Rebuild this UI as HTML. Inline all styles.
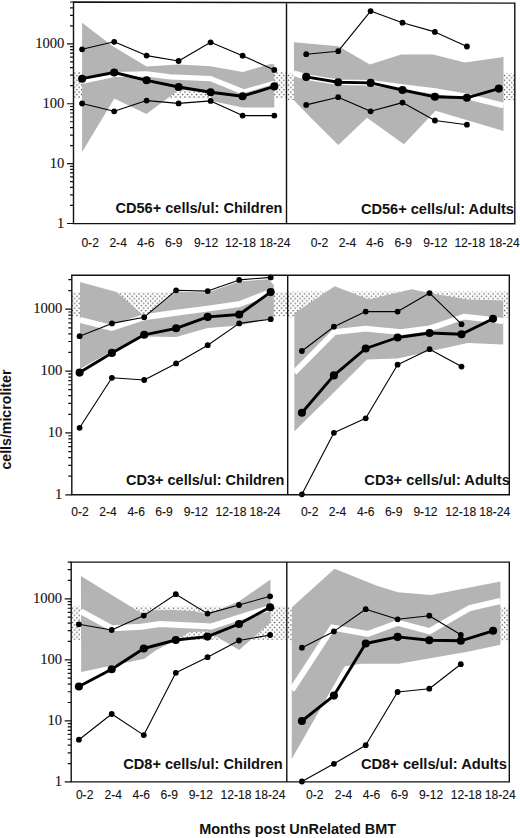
<!DOCTYPE html>
<html><head><meta charset="utf-8"><style>html,body{margin:0;padding:0;background:#fff;width:520px;height:838px;overflow:hidden}svg{display:block}</style></head>
<body>
<svg width="520" height="838" viewBox="0 0 520 838">
<defs><pattern id="st" x="0" y="0" width="4.6" height="4.8" patternUnits="userSpaceOnUse"><rect x="0.4" y="0.4" width="1.2" height="1.2" fill="#333"/><rect x="2.7" y="2.8" width="1.2" height="1.2" fill="#333"/></pattern></defs>
<rect width="520" height="838" fill="#fff"/>
<rect x="73.5" y="72.0" width="213.0" height="26.5" fill="url(#st)"/>
<polygon points="82.1,22.7 112.5,46.0 146.6,66.5 178.6,64.6 210.4,66.2 242.6,72.0 270.7,63.9 274.3,64.5 274.3,107.5 242.6,107.5 212.0,101.0 209.0,91.0 178.6,90.0 146.4,114.0 114.3,98.4 82.1,152.0" fill="#b4b4b4"/>
<polyline points="82.1,81.2 114.2,74.5 146.6,73.8 170.0,76.9 210.4,78.6 242.6,91.5" fill="none" stroke="#fff" stroke-width="5.2" stroke-linejoin="miter"/>
<polyline points="242.6,91.5 274.3,82.3" fill="none" stroke="#fff" stroke-width="3.4"/>
<polyline points="82.1,49.3 114.2,41.8 146.6,55.6 178.6,61.0 210.6,42.3 242.6,55.7 274.3,69.9" fill="none" stroke="#000" stroke-width="1.1" stroke-linejoin="round"/>
<circle cx="82.1" cy="49.3" r="2.9" fill="#000"/>
<circle cx="114.2" cy="41.8" r="2.9" fill="#000"/>
<circle cx="146.6" cy="55.6" r="2.9" fill="#000"/>
<circle cx="178.6" cy="61.0" r="2.9" fill="#000"/>
<circle cx="210.6" cy="42.3" r="2.9" fill="#000"/>
<circle cx="242.6" cy="55.7" r="2.9" fill="#000"/>
<circle cx="274.3" cy="69.9" r="2.9" fill="#000"/>
<polyline points="82.1,103.5 114.2,111.3 146.6,100.6 178.6,103.4 210.6,100.9 242.6,115.6 274.3,115.6" fill="none" stroke="#000" stroke-width="1.1" stroke-linejoin="round"/>
<circle cx="82.1" cy="103.5" r="2.9" fill="#000"/>
<circle cx="114.2" cy="111.3" r="2.9" fill="#000"/>
<circle cx="146.6" cy="100.6" r="2.9" fill="#000"/>
<circle cx="178.6" cy="103.4" r="2.9" fill="#000"/>
<circle cx="210.6" cy="100.9" r="2.9" fill="#000"/>
<circle cx="242.6" cy="115.6" r="2.9" fill="#000"/>
<circle cx="274.3" cy="115.6" r="2.9" fill="#000"/>
<polyline points="82.1,78.7 114.2,72.5 146.6,80.3 178.6,87.0 210.6,92.2 242.6,96.2 274.3,86.4" fill="none" stroke="#000" stroke-width="2.9" stroke-linejoin="round"/>
<circle cx="82.1" cy="78.7" r="4.05" fill="#000"/>
<circle cx="114.2" cy="72.5" r="4.05" fill="#000"/>
<circle cx="146.6" cy="80.3" r="4.05" fill="#000"/>
<circle cx="178.6" cy="87.0" r="4.05" fill="#000"/>
<circle cx="210.6" cy="92.2" r="4.05" fill="#000"/>
<circle cx="242.6" cy="96.2" r="4.05" fill="#000"/>
<circle cx="274.3" cy="86.4" r="4.05" fill="#000"/>
<rect x="286.5" y="73.3" width="228.3" height="26.9" fill="url(#st)"/>
<polygon points="293.9,42.3 338.5,46.2 369.8,64.4 401.2,54.6 433.0,54.6 464.9,62.6 503.5,56.9 503.5,131.0 435.5,110.8 403.9,144.3 367.0,117.7 338.3,145.0 311.0,118.0 294.0,100.3" fill="#b4b4b4"/>
<polyline points="293.9,73.3 306.2,76.9 338.2,82.2 370.6,82.7 402.5,87.0 434.9,91.0 466.9,96.5 503.5,105.5" fill="none" stroke="#fff" stroke-width="5.6" stroke-linejoin="miter"/>
<polyline points="306.2,54.2 338.2,51.2 370.6,11.1 402.5,22.7 434.9,31.9 466.9,46.5" fill="none" stroke="#000" stroke-width="1.1" stroke-linejoin="round"/>
<circle cx="306.2" cy="54.2" r="2.9" fill="#000"/>
<circle cx="338.2" cy="51.2" r="2.9" fill="#000"/>
<circle cx="370.6" cy="11.1" r="2.9" fill="#000"/>
<circle cx="402.5" cy="22.7" r="2.9" fill="#000"/>
<circle cx="434.9" cy="31.9" r="2.9" fill="#000"/>
<circle cx="466.9" cy="46.5" r="2.9" fill="#000"/>
<polyline points="306.2,104.9 338.2,97.2 370.6,111.3 402.5,102.6 434.9,120.5 466.9,124.7" fill="none" stroke="#000" stroke-width="1.1" stroke-linejoin="round"/>
<circle cx="306.2" cy="104.9" r="2.9" fill="#000"/>
<circle cx="338.2" cy="97.2" r="2.9" fill="#000"/>
<circle cx="370.6" cy="111.3" r="2.9" fill="#000"/>
<circle cx="402.5" cy="102.6" r="2.9" fill="#000"/>
<circle cx="434.9" cy="120.5" r="2.9" fill="#000"/>
<circle cx="466.9" cy="124.7" r="2.9" fill="#000"/>
<polyline points="306.2,76.9 338.2,82.3 370.6,82.9 402.5,90.0 434.9,96.8 466.9,97.8 498.8,88.6" fill="none" stroke="#000" stroke-width="2.9" stroke-linejoin="round"/>
<circle cx="306.2" cy="76.9" r="4.05" fill="#000"/>
<circle cx="338.2" cy="82.3" r="4.05" fill="#000"/>
<circle cx="370.6" cy="82.9" r="4.05" fill="#000"/>
<circle cx="402.5" cy="90.0" r="4.05" fill="#000"/>
<circle cx="434.9" cy="96.8" r="4.05" fill="#000"/>
<circle cx="466.9" cy="97.8" r="4.05" fill="#000"/>
<circle cx="498.8" cy="88.6" r="4.05" fill="#000"/>
<rect x="71.8" y="292.0" width="215.9" height="24.5" fill="url(#st)"/>
<polygon points="80.0,282.0 116.6,292.0 144.2,316.0 176.2,291.5 207.7,292.5 239.2,281.5 268.5,279.2 273.8,285.0 273.8,317.7 239.2,325.4 207.7,328.0 176.2,337.0 144.2,336.5 112.0,351.0 80.0,369.0" fill="#b4b4b4"/>
<polyline points="80.0,319.8 111.6,327.8 144.2,317.2 176.2,312.8 207.7,308.6 239.2,304.2 270.8,292.0" fill="none" stroke="#fff" stroke-width="6" stroke-linejoin="miter"/>
<polyline points="79.6,336.2 111.9,323.4 144.2,317.2 176.1,290.3 207.7,291.1 239.2,279.9 270.7,277.4" fill="none" stroke="#000" stroke-width="1.1" stroke-linejoin="round"/>
<circle cx="79.6" cy="336.2" r="2.9" fill="#000"/>
<circle cx="111.9" cy="323.4" r="2.9" fill="#000"/>
<circle cx="144.2" cy="317.2" r="2.9" fill="#000"/>
<circle cx="176.1" cy="290.3" r="2.9" fill="#000"/>
<circle cx="207.7" cy="291.1" r="2.9" fill="#000"/>
<circle cx="239.2" cy="279.9" r="2.9" fill="#000"/>
<circle cx="270.7" cy="277.4" r="2.9" fill="#000"/>
<polyline points="79.6,427.8 111.9,377.8 144.2,380.0 176.1,363.4 207.7,345.2 239.2,323.4 270.7,319.2" fill="none" stroke="#000" stroke-width="1.1" stroke-linejoin="round"/>
<circle cx="79.6" cy="427.8" r="2.9" fill="#000"/>
<circle cx="111.9" cy="377.8" r="2.9" fill="#000"/>
<circle cx="144.2" cy="380.0" r="2.9" fill="#000"/>
<circle cx="176.1" cy="363.4" r="2.9" fill="#000"/>
<circle cx="207.7" cy="345.2" r="2.9" fill="#000"/>
<circle cx="239.2" cy="323.4" r="2.9" fill="#000"/>
<circle cx="270.7" cy="319.2" r="2.9" fill="#000"/>
<polyline points="79.6,372.6 111.9,352.9 144.2,334.8 176.1,328.3 207.7,316.9 239.2,314.5 270.7,292.1" fill="none" stroke="#000" stroke-width="2.9" stroke-linejoin="round"/>
<circle cx="79.6" cy="372.6" r="4.05" fill="#000"/>
<circle cx="111.9" cy="352.9" r="4.05" fill="#000"/>
<circle cx="144.2" cy="334.8" r="4.05" fill="#000"/>
<circle cx="176.1" cy="328.3" r="4.05" fill="#000"/>
<circle cx="207.7" cy="316.9" r="4.05" fill="#000"/>
<circle cx="239.2" cy="314.5" r="4.05" fill="#000"/>
<circle cx="270.7" cy="292.1" r="4.05" fill="#000"/>
<rect x="287.7" y="291.7" width="221.6" height="25.8" fill="url(#st)"/>
<polygon points="294.4,313.3 334.7,286.2 369.0,299.5 411.5,289.2 435.0,293.9 467.7,299.6 503.2,300.4 503.2,344.6 467.7,343.0 435.0,350.3 397.6,358.5 367.0,359.5 294.4,431.5" fill="#b4b4b4"/>
<polyline points="294.4,372.5 334.5,332.0 365.8,328.7 380.0,330.2 401.0,332.2 429.5,328.3 440.0,325.0 464.2,316.6 503.2,321.0" fill="none" stroke="#fff" stroke-width="5.8" stroke-linejoin="miter"/>
<polyline points="301.9,351.0 333.9,326.7 365.7,311.6 397.6,311.6 429.6,293.1 461.5,324.2" fill="none" stroke="#000" stroke-width="1.1" stroke-linejoin="round"/>
<circle cx="301.9" cy="351.0" r="2.9" fill="#000"/>
<circle cx="333.9" cy="326.7" r="2.9" fill="#000"/>
<circle cx="365.7" cy="311.6" r="2.9" fill="#000"/>
<circle cx="397.6" cy="311.6" r="2.9" fill="#000"/>
<circle cx="429.6" cy="293.1" r="2.9" fill="#000"/>
<circle cx="461.5" cy="324.2" r="2.9" fill="#000"/>
<polyline points="301.9,494.3 333.9,432.8 365.7,418.3 397.6,364.7 429.6,349.2 461.5,366.6" fill="none" stroke="#000" stroke-width="1.1" stroke-linejoin="round"/>
<circle cx="301.9" cy="494.3" r="2.9" fill="#000"/>
<circle cx="333.9" cy="432.8" r="2.9" fill="#000"/>
<circle cx="365.7" cy="418.3" r="2.9" fill="#000"/>
<circle cx="397.6" cy="364.7" r="2.9" fill="#000"/>
<circle cx="429.6" cy="349.2" r="2.9" fill="#000"/>
<circle cx="461.5" cy="366.6" r="2.9" fill="#000"/>
<polyline points="301.9,412.7 333.9,375.4 365.7,348.5 397.6,337.5 429.6,333.0 461.5,334.2 493.0,318.8" fill="none" stroke="#000" stroke-width="2.9" stroke-linejoin="round"/>
<circle cx="301.9" cy="412.7" r="4.05" fill="#000"/>
<circle cx="333.9" cy="375.4" r="4.05" fill="#000"/>
<circle cx="365.7" cy="348.5" r="4.05" fill="#000"/>
<circle cx="397.6" cy="337.5" r="4.05" fill="#000"/>
<circle cx="429.6" cy="333.0" r="4.05" fill="#000"/>
<circle cx="461.5" cy="334.2" r="4.05" fill="#000"/>
<circle cx="493.0" cy="318.8" r="4.05" fill="#000"/>
<rect x="71.2" y="606.5" width="215.6" height="33.5" fill="url(#st)"/>
<polygon points="80.9,576.1 141.5,613.3 146.0,613.0 152.0,610.3 170.8,610.0 193.8,611.0 207.7,614.6 239.5,601.0 270.5,579.5 270.5,622.3 239.2,650.0 207.7,631.5 190.0,632.0 175.8,640.0 156.5,650.0 144.3,658.7 81.2,672.0" fill="#b4b4b4"/>
<polyline points="80.9,611.3 112.0,628.3 141.2,626.8 160.0,624.0 207.1,626.2 211.5,626.4 239.0,617.5 270.0,608.0" fill="none" stroke="#fff" stroke-width="6" stroke-linejoin="miter"/>
<polyline points="78.9,624.3 111.7,630.0 143.8,615.6 175.8,594.2 207.5,613.6 239.0,605.0 270.1,596.3" fill="none" stroke="#000" stroke-width="1.1" stroke-linejoin="round"/>
<circle cx="78.9" cy="624.3" r="2.9" fill="#000"/>
<circle cx="111.7" cy="630.0" r="2.9" fill="#000"/>
<circle cx="143.8" cy="615.6" r="2.9" fill="#000"/>
<circle cx="175.8" cy="594.2" r="2.9" fill="#000"/>
<circle cx="207.5" cy="613.6" r="2.9" fill="#000"/>
<circle cx="239.0" cy="605.0" r="2.9" fill="#000"/>
<circle cx="270.1" cy="596.3" r="2.9" fill="#000"/>
<polyline points="78.9,739.7 111.7,714.0 143.8,735.1 175.8,672.8 207.5,657.2 239.0,640.5 270.1,635.0" fill="none" stroke="#000" stroke-width="1.1" stroke-linejoin="round"/>
<circle cx="78.9" cy="739.7" r="2.9" fill="#000"/>
<circle cx="111.7" cy="714.0" r="2.9" fill="#000"/>
<circle cx="143.8" cy="735.1" r="2.9" fill="#000"/>
<circle cx="175.8" cy="672.8" r="2.9" fill="#000"/>
<circle cx="207.5" cy="657.2" r="2.9" fill="#000"/>
<circle cx="239.0" cy="640.5" r="2.9" fill="#000"/>
<circle cx="270.1" cy="635.0" r="2.9" fill="#000"/>
<polyline points="78.9,686.5 111.7,669.2 143.8,648.5 175.8,640.0 207.5,636.6 239.0,624.0 270.1,607.2" fill="none" stroke="#000" stroke-width="2.9" stroke-linejoin="round"/>
<circle cx="78.9" cy="686.5" r="4.05" fill="#000"/>
<circle cx="111.7" cy="669.2" r="4.05" fill="#000"/>
<circle cx="143.8" cy="648.5" r="4.05" fill="#000"/>
<circle cx="175.8" cy="640.0" r="4.05" fill="#000"/>
<circle cx="207.5" cy="636.6" r="4.05" fill="#000"/>
<circle cx="239.0" cy="624.0" r="4.05" fill="#000"/>
<circle cx="270.1" cy="607.2" r="4.05" fill="#000"/>
<rect x="286.8" y="607.0" width="222.5" height="33.5" fill="url(#st)"/>
<polygon points="291.9,607.3 334.6,568.8 376.2,585.4 397.7,592.3 431.2,595.0 500.4,581.5 500.4,644.8 468.8,651.5 398.8,663.7 360.8,663.8 344.6,666.5 291.7,759.0" fill="#b4b4b4"/>
<polyline points="291.8,690.0 332.5,627.5 367.7,634.0 398.0,622.8 429.6,631.2 469.8,608.0 500.4,601.0" fill="none" stroke="#fff" stroke-width="6" stroke-linejoin="miter"/>
<polyline points="301.9,647.7 333.9,631.4 365.7,609.2 397.6,619.3 429.3,615.7 460.8,634.8" fill="none" stroke="#000" stroke-width="1.1" stroke-linejoin="round"/>
<circle cx="301.9" cy="647.7" r="2.9" fill="#000"/>
<circle cx="333.9" cy="631.4" r="2.9" fill="#000"/>
<circle cx="365.7" cy="609.2" r="2.9" fill="#000"/>
<circle cx="397.6" cy="619.3" r="2.9" fill="#000"/>
<circle cx="429.3" cy="615.7" r="2.9" fill="#000"/>
<circle cx="460.8" cy="634.8" r="2.9" fill="#000"/>
<polyline points="301.9,781.5 333.9,763.8 365.7,745.2 397.6,692.0 429.3,688.7 460.8,664.2" fill="none" stroke="#000" stroke-width="1.1" stroke-linejoin="round"/>
<circle cx="301.9" cy="781.5" r="2.9" fill="#000"/>
<circle cx="333.9" cy="763.8" r="2.9" fill="#000"/>
<circle cx="365.7" cy="745.2" r="2.9" fill="#000"/>
<circle cx="397.6" cy="692.0" r="2.9" fill="#000"/>
<circle cx="429.3" cy="688.7" r="2.9" fill="#000"/>
<circle cx="460.8" cy="664.2" r="2.9" fill="#000"/>
<polyline points="301.9,721.0 333.9,695.6 365.7,643.5 397.6,636.9 429.3,640.2 460.8,640.8 493.1,630.8" fill="none" stroke="#000" stroke-width="2.9" stroke-linejoin="round"/>
<circle cx="301.9" cy="721.0" r="4.05" fill="#000"/>
<circle cx="333.9" cy="695.6" r="4.05" fill="#000"/>
<circle cx="365.7" cy="643.5" r="4.05" fill="#000"/>
<circle cx="397.6" cy="636.9" r="4.05" fill="#000"/>
<circle cx="429.3" cy="640.2" r="4.05" fill="#000"/>
<circle cx="460.8" cy="640.8" r="4.05" fill="#000"/>
<circle cx="493.1" cy="630.8" r="4.05" fill="#000"/>
<path d="M73.5,2.0 L514.8,3.1 L514.8,223.8 L73.5,223.5 Z M286.5,2.0 L286.5,223.5" fill="none" stroke="#111" stroke-width="1.4" stroke-linejoin="miter"/>
<path d="M67.0,223.50H73.5M70.0,205.47H73.5M70.0,194.93H73.5M70.0,187.45H73.5M70.0,181.65H73.5M70.0,176.90H73.5M70.0,172.90H73.5M70.0,169.42H73.5M70.0,166.36H73.5M67.0,163.62H73.5M70.0,145.59H73.5M70.0,135.05H73.5M70.0,127.57H73.5M70.0,121.77H73.5M70.0,117.02H73.5M70.0,113.02H73.5M70.0,109.54H73.5M70.0,106.48H73.5M67.0,103.74H73.5M70.0,85.71H73.5M70.0,75.17H73.5M70.0,67.69H73.5M70.0,61.89H73.5M70.0,57.14H73.5M70.0,53.14H73.5M70.0,49.66H73.5M70.0,46.60H73.5M67.0,43.86H73.5M70.0,25.83H73.5M70.0,15.29H73.5M70.0,7.81H73.5M70.0,2.01H73.5" stroke="#111" stroke-width="1.2" fill="none"/>
<text x="64.39999999999999" y="228.0" text-anchor="end" font-family="Liberation Serif, serif" font-size="14.6" fill="#111" stroke="#111" stroke-width="0.12">1</text>
<text x="64.39999999999999" y="168.1" text-anchor="end" font-family="Liberation Serif, serif" font-size="14.6" fill="#111" stroke="#111" stroke-width="0.12">10</text>
<text x="64.39999999999999" y="108.2" text-anchor="end" font-family="Liberation Serif, serif" font-size="14.6" fill="#111" stroke="#111" stroke-width="0.12">100</text>
<text x="64.39999999999999" y="48.4" text-anchor="end" font-family="Liberation Serif, serif" font-size="14.6" fill="#111" stroke="#111" stroke-width="0.12">1000</text>
<path d="M71.8,275.2 L509.3,275.2 L509.3,494.8 L71.8,494.8 Z M287.7,275.2 L287.7,494.8" fill="none" stroke="#111" stroke-width="1.4" stroke-linejoin="miter"/>
<path d="M65.3,494.80H71.8M68.3,476.17H71.8M68.3,465.28H71.8M68.3,457.54H71.8M68.3,451.55H71.8M68.3,446.65H71.8M68.3,442.51H71.8M68.3,438.92H71.8M68.3,435.75H71.8M65.3,432.92H71.8M68.3,414.29H71.8M68.3,403.40H71.8M68.3,395.66H71.8M68.3,389.67H71.8M68.3,384.77H71.8M68.3,380.63H71.8M68.3,377.04H71.8M68.3,373.87H71.8M65.3,371.04H71.8M68.3,352.41H71.8M68.3,341.52H71.8M68.3,333.78H71.8M68.3,327.79H71.8M68.3,322.89H71.8M68.3,318.75H71.8M68.3,315.16H71.8M68.3,311.99H71.8M65.3,309.16H71.8M68.3,290.53H71.8M68.3,279.64H71.8" stroke="#111" stroke-width="1.2" fill="none"/>
<text x="62.4" y="498.6" text-anchor="end" font-family="Liberation Serif, serif" font-size="14.6" fill="#111" stroke="#111" stroke-width="0.12">1</text>
<text x="62.4" y="436.7" text-anchor="end" font-family="Liberation Serif, serif" font-size="14.6" fill="#111" stroke="#111" stroke-width="0.12">10</text>
<text x="62.4" y="374.8" text-anchor="end" font-family="Liberation Serif, serif" font-size="14.6" fill="#111" stroke="#111" stroke-width="0.12">100</text>
<text x="62.4" y="313.0" text-anchor="end" font-family="Liberation Serif, serif" font-size="14.6" fill="#111" stroke="#111" stroke-width="0.12">1000</text>
<path d="M71.2,562.1 L509.3,562.1 L509.3,781.9 L71.2,781.9 Z M286.8,562.1 L286.8,781.9" fill="none" stroke="#111" stroke-width="1.4" stroke-linejoin="miter"/>
<path d="M64.7,781.90H71.2M67.7,763.53H71.2M67.7,752.78H71.2M67.7,745.16H71.2M67.7,739.24H71.2M67.7,734.41H71.2M67.7,730.32H71.2M67.7,726.78H71.2M67.7,723.66H71.2M64.7,720.87H71.2M67.7,702.50H71.2M67.7,691.75H71.2M67.7,684.13H71.2M67.7,678.21H71.2M67.7,673.38H71.2M67.7,669.29H71.2M67.7,665.75H71.2M67.7,662.63H71.2M64.7,659.84H71.2M67.7,641.47H71.2M67.7,630.72H71.2M67.7,623.10H71.2M67.7,617.18H71.2M67.7,612.35H71.2M67.7,608.26H71.2M67.7,604.72H71.2M67.7,601.60H71.2M64.7,598.81H71.2M67.7,580.44H71.2M67.7,569.69H71.2M67.7,562.07H71.2" stroke="#111" stroke-width="1.2" fill="none"/>
<text x="62.1" y="785.7" text-anchor="end" font-family="Liberation Serif, serif" font-size="14.6" fill="#111" stroke="#111" stroke-width="0.12">1</text>
<text x="62.1" y="724.7" text-anchor="end" font-family="Liberation Serif, serif" font-size="14.6" fill="#111" stroke="#111" stroke-width="0.12">10</text>
<text x="62.1" y="663.6" text-anchor="end" font-family="Liberation Serif, serif" font-size="14.6" fill="#111" stroke="#111" stroke-width="0.12">100</text>
<text x="62.1" y="602.6" text-anchor="end" font-family="Liberation Serif, serif" font-size="14.6" fill="#111" stroke="#111" stroke-width="0.12">1000</text>
<text x="115.5" y="213.3" font-family="Liberation Sans, sans-serif" font-weight="bold" font-size="14" fill="#111" textLength="166.9" lengthAdjust="spacingAndGlyphs">CD56+ cells/ul: Children</text>
<text x="360.9" y="213.9" font-family="Liberation Sans, sans-serif" font-weight="bold" font-size="14" fill="#111" textLength="153.1" lengthAdjust="spacingAndGlyphs">CD56+ cells/ul: Adults</text>
<text x="126.0" y="484.7" font-family="Liberation Sans, sans-serif" font-weight="bold" font-size="14" fill="#111" textLength="158.4" lengthAdjust="spacingAndGlyphs">CD3+ cells/ul: Children</text>
<text x="364.3" y="484.7" font-family="Liberation Sans, sans-serif" font-weight="bold" font-size="14" fill="#111" textLength="145.6" lengthAdjust="spacingAndGlyphs">CD3+ cells/ul: Adults</text>
<text x="123.2" y="769.3" font-family="Liberation Sans, sans-serif" font-weight="bold" font-size="14" fill="#111" textLength="159.5" lengthAdjust="spacingAndGlyphs">CD8+ cells/ul: Children</text>
<text x="360.9" y="769.3" font-family="Liberation Sans, sans-serif" font-weight="bold" font-size="14" fill="#111" textLength="146.0" lengthAdjust="spacingAndGlyphs">CD8+ cells/ul: Adults</text>
<text x="81.4" y="246.5" font-family="Liberation Sans, sans-serif" font-size="12.1" fill="#111" stroke="#111" stroke-width="0.1">0-2</text>
<text x="109.4" y="246.5" font-family="Liberation Sans, sans-serif" font-size="12.1" fill="#111" stroke="#111" stroke-width="0.1">2-4</text>
<text x="137.0" y="246.5" font-family="Liberation Sans, sans-serif" font-size="12.1" fill="#111" stroke="#111" stroke-width="0.1">4-6</text>
<text x="165.1" y="246.5" font-family="Liberation Sans, sans-serif" font-size="12.1" fill="#111" stroke="#111" stroke-width="0.1">6-9</text>
<text x="194.0" y="246.5" font-family="Liberation Sans, sans-serif" font-size="12.1" fill="#111" stroke="#111" stroke-width="0.1">9-12</text>
<text x="225.1" y="246.5" font-family="Liberation Sans, sans-serif" font-size="12.1" fill="#111" stroke="#111" stroke-width="0.1">12-18</text>
<text x="259.6" y="246.5" font-family="Liberation Sans, sans-serif" font-size="12.1" fill="#111" stroke="#111" stroke-width="0.1">18-24</text>
<text x="310.7" y="246.5" font-family="Liberation Sans, sans-serif" font-size="12.1" fill="#111" stroke="#111" stroke-width="0.1">0-2</text>
<text x="338.7" y="246.5" font-family="Liberation Sans, sans-serif" font-size="12.1" fill="#111" stroke="#111" stroke-width="0.1">2-4</text>
<text x="366.3" y="246.5" font-family="Liberation Sans, sans-serif" font-size="12.1" fill="#111" stroke="#111" stroke-width="0.1">4-6</text>
<text x="394.4" y="246.5" font-family="Liberation Sans, sans-serif" font-size="12.1" fill="#111" stroke="#111" stroke-width="0.1">6-9</text>
<text x="423.3" y="246.5" font-family="Liberation Sans, sans-serif" font-size="12.1" fill="#111" stroke="#111" stroke-width="0.1">9-12</text>
<text x="454.4" y="246.5" font-family="Liberation Sans, sans-serif" font-size="12.1" fill="#111" stroke="#111" stroke-width="0.1">12-18</text>
<text x="488.9" y="246.5" font-family="Liberation Sans, sans-serif" font-size="12.1" fill="#111" stroke="#111" stroke-width="0.1">18-24</text>
<text x="71.3" y="516.2" font-family="Liberation Sans, sans-serif" font-size="12.1" fill="#111" stroke="#111" stroke-width="0.1">0-2</text>
<text x="99.2" y="516.2" font-family="Liberation Sans, sans-serif" font-size="12.1" fill="#111" stroke="#111" stroke-width="0.1">2-4</text>
<text x="127.4" y="516.2" font-family="Liberation Sans, sans-serif" font-size="12.1" fill="#111" stroke="#111" stroke-width="0.1">4-6</text>
<text x="155.3" y="516.2" font-family="Liberation Sans, sans-serif" font-size="12.1" fill="#111" stroke="#111" stroke-width="0.1">6-9</text>
<text x="183.8" y="516.2" font-family="Liberation Sans, sans-serif" font-size="12.1" fill="#111" stroke="#111" stroke-width="0.1">9-12</text>
<text x="215.6" y="516.2" font-family="Liberation Sans, sans-serif" font-size="12.1" fill="#111" stroke="#111" stroke-width="0.1">12-18</text>
<text x="249.6" y="516.2" font-family="Liberation Sans, sans-serif" font-size="12.1" fill="#111" stroke="#111" stroke-width="0.1">18-24</text>
<text x="300.9" y="516.2" font-family="Liberation Sans, sans-serif" font-size="12.1" fill="#111" stroke="#111" stroke-width="0.1">0-2</text>
<text x="328.8" y="516.2" font-family="Liberation Sans, sans-serif" font-size="12.1" fill="#111" stroke="#111" stroke-width="0.1">2-4</text>
<text x="357.0" y="516.2" font-family="Liberation Sans, sans-serif" font-size="12.1" fill="#111" stroke="#111" stroke-width="0.1">4-6</text>
<text x="384.9" y="516.2" font-family="Liberation Sans, sans-serif" font-size="12.1" fill="#111" stroke="#111" stroke-width="0.1">6-9</text>
<text x="413.4" y="516.2" font-family="Liberation Sans, sans-serif" font-size="12.1" fill="#111" stroke="#111" stroke-width="0.1">9-12</text>
<text x="445.2" y="516.2" font-family="Liberation Sans, sans-serif" font-size="12.1" fill="#111" stroke="#111" stroke-width="0.1">12-18</text>
<text x="479.2" y="516.2" font-family="Liberation Sans, sans-serif" font-size="12.1" fill="#111" stroke="#111" stroke-width="0.1">18-24</text>
<text x="75.9" y="799.4" font-family="Liberation Sans, sans-serif" font-size="12.1" fill="#111" stroke="#111" stroke-width="0.1">0-2</text>
<text x="104.5" y="799.4" font-family="Liberation Sans, sans-serif" font-size="12.1" fill="#111" stroke="#111" stroke-width="0.1">2-4</text>
<text x="132.6" y="799.4" font-family="Liberation Sans, sans-serif" font-size="12.1" fill="#111" stroke="#111" stroke-width="0.1">4-6</text>
<text x="160.6" y="799.4" font-family="Liberation Sans, sans-serif" font-size="12.1" fill="#111" stroke="#111" stroke-width="0.1">6-9</text>
<text x="188.8" y="799.4" font-family="Liberation Sans, sans-serif" font-size="12.1" fill="#111" stroke="#111" stroke-width="0.1">9-12</text>
<text x="220.6" y="799.4" font-family="Liberation Sans, sans-serif" font-size="12.1" fill="#111" stroke="#111" stroke-width="0.1">12-18</text>
<text x="254.6" y="799.4" font-family="Liberation Sans, sans-serif" font-size="12.1" fill="#111" stroke="#111" stroke-width="0.1">18-24</text>
<text x="306.1" y="799.4" font-family="Liberation Sans, sans-serif" font-size="12.1" fill="#111" stroke="#111" stroke-width="0.1">0-2</text>
<text x="334.7" y="799.4" font-family="Liberation Sans, sans-serif" font-size="12.1" fill="#111" stroke="#111" stroke-width="0.1">2-4</text>
<text x="362.8" y="799.4" font-family="Liberation Sans, sans-serif" font-size="12.1" fill="#111" stroke="#111" stroke-width="0.1">4-6</text>
<text x="390.8" y="799.4" font-family="Liberation Sans, sans-serif" font-size="12.1" fill="#111" stroke="#111" stroke-width="0.1">6-9</text>
<text x="419.0" y="799.4" font-family="Liberation Sans, sans-serif" font-size="12.1" fill="#111" stroke="#111" stroke-width="0.1">9-12</text>
<text x="450.8" y="799.4" font-family="Liberation Sans, sans-serif" font-size="12.1" fill="#111" stroke="#111" stroke-width="0.1">12-18</text>
<text x="484.8" y="799.4" font-family="Liberation Sans, sans-serif" font-size="12.1" fill="#111" stroke="#111" stroke-width="0.1">18-24</text>
<text x="199.2" y="834" font-family="Liberation Sans, sans-serif" font-weight="bold" font-size="14" fill="#111" textLength="197" lengthAdjust="spacingAndGlyphs">Months post UnRelated BMT</text>
<text transform="translate(11,469.6) rotate(-90)" x="0" y="0" font-family="Liberation Sans, sans-serif" font-weight="bold" font-size="14" fill="#111" textLength="100" lengthAdjust="spacingAndGlyphs">cells/microliter</text>
</svg>
</body></html>
